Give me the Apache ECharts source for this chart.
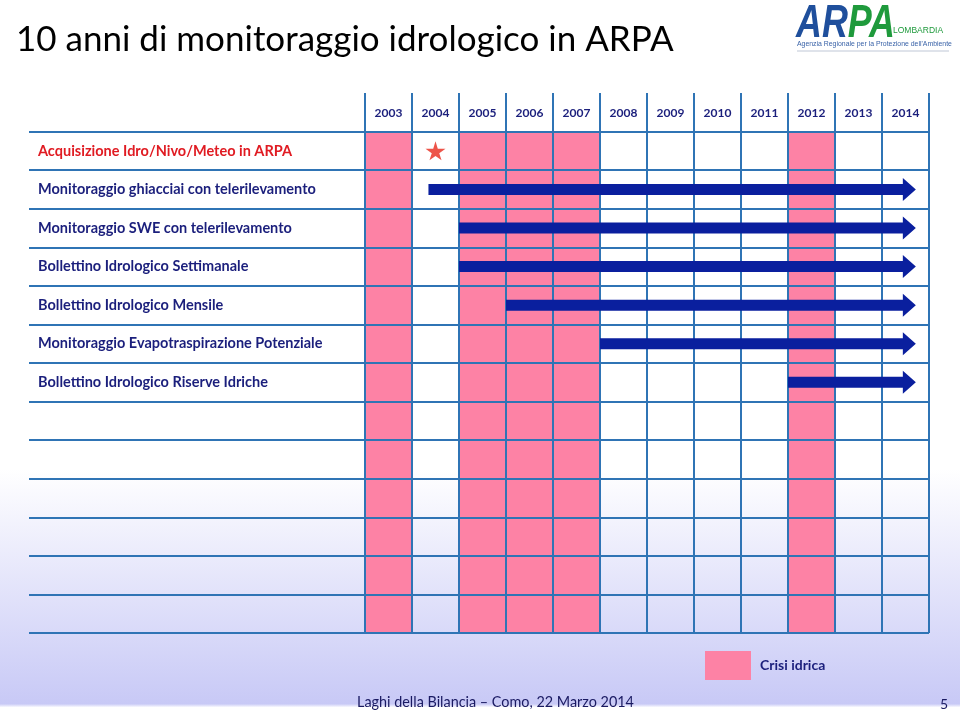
<!DOCTYPE html>
<html><head><meta charset="utf-8">
<script src="https://cdn.jsdelivr.net/npm/echarts@6/dist/echarts.min.js"></script>
<style>html,body{margin:0;padding:0;background:#fff}#c{width:960px;height:711px}</style>
</head><body><div id="c"></div>
<script>
// ---- data ----
const years = ['2003','2004','2005','2006','2007','2008','2009','2010','2011','2012','2013','2014'];
const activities = [
  'Acquisizione Idro/Nivo/Meteo in ARPA',
  'Monitoraggio ghiacciai con telerilevamento',
  'Monitoraggio SWE con telerilevamento',
  'Bolle\u0074\u0074ino Idrologico Se\u0074\u0074imanale',
  'Bolle\u0074\u0074ino Idrologico Mensile',
  'Monitoraggio Evapotraspirazione Potenziale',
  'Bolle\u0074\u0074ino Idrologico Riserve Idriche'
];
const emptyRowCount = 6;
const crisisYears = [2003, 2005, 2006, 2007, 2012];
const starActivity = 'Acquisizione Idro/Nivo/Meteo in ARPA';
const starYear = 2004;
const arrowActivities = [
  'Monitoraggio ghiacciai con telerilevamento',
  'Monitoraggio SWE con telerilevamento',
  'Bolle\u0074\u0074ino Idrologico Se\u0074\u0074imanale',
  'Bolle\u0074\u0074ino Idrologico Mensile',
  'Monitoraggio Evapotraspirazione Potenziale',
  'Bolle\u0074\u0074ino Idrologico Riserve Idriche'
];
const arrowStart = [2004.35, 2005, 2005, 2006, 2008, 2012];
const arrowEnd   = [2014.72, 2014.72, 2014.72, 2014.72, 2014.72, 2014.72];
const legendLabel = 'Crisi idrica';
const titleText = '10 anni di monitoraggio idrologico in ARPA';
const footerText = 'Laghi della Bilancia \u2013 Como, 22 Marzo 2014';
const pageNumber = '5';

// ---- derived ----
const rowLabels = [''].concat(activities, new Array(emptyRowCount).fill(''));
const totalRows = rowLabels.length; // header + rows
const firstYear = +years[0];
const lastYear = +years[years.length - 1] + 1;
const rowCenter = name => rowLabels.indexOf(name) + 0.5;

const NAVY = '#1b1f7c';
const GRID = '#2f74b5';
const PINK = '#fd82a5';
const FONT = 'Lato, "Open Sans", sans-serif';

const chart = echarts.init(document.getElementById('c'));
chart.setOption({
  backgroundColor: {
    type: 'linear', x: 0, y: 0, x2: 0, y2: 1,
    colorStops: [
      {offset: 0, color: '#ffffff'},
      {offset: 0.66, color: '#ffffff'},
      {offset: 0.99, color: '#c8c9f6'},
      {offset: 0.995, color: '#ffffff'},
      {offset: 1, color: '#ffffff'}
    ]
  },
  animation: false,
  textStyle: {fontFamily: FONT},
  title: [
    {text: titleText, left: 16, top: 22, padding: 0,
     textStyle: {fontSize: 35, fontWeight: 'normal', color: '#000', fontFamily: FONT}},
    {text: footerText, left: 357, top: 695, padding: 0,
     textStyle: {fontSize: 14.4, fontWeight: 'normal', color: '#1a1a62', fontFamily: FONT}},
    {text: pageNumber, left: 940, top: 697, padding: 0,
     textStyle: {fontSize: 14, fontWeight: 'normal', color: '#1a1a62', fontFamily: FONT}}
  ],
  legend: {
    data: [legendLabel], left: 705, top: 651, padding: 0,
    icon: 'rect', itemWidth: 46, itemHeight: 29,
    textStyle: {fontSize: 14, fontWeight: 'bold', color: NAVY, fontFamily: FONT, padding: [0, 0, 0, 4]}
  },
  grid: [
    {left: 29, right: 31, top: 93, bottom: 78, containLabel: false},
    {left: 365, right: 31, top: 93, bottom: 78, containLabel: false}
  ],
  xAxis: [
    {gridIndex: 0, type: 'value', show: false, min: 0, max: 1},
    {gridIndex: 1, type: 'category', data: years, position: 'top', boundaryGap: true,
     axisLine: {show: false}, axisTick: {show: false},
     axisLabel: {inside: true, margin: 14, fontSize: 12, fontWeight: 'bold', color: NAVY, fontFamily: FONT},
     splitLine: {show: true, showMinLine: true, showMaxLine: true, lineStyle: {color: GRID, width: 2}}},
    {gridIndex: 1, type: 'value', show: false, min: firstYear, max: lastYear}
  ],
  yAxis: [
    {gridIndex: 0, type: 'category', data: rowLabels, inverse: true, boundaryGap: true,
     axisLine: {show: false}, axisTick: {show: false},
     axisLabel: {inside: true, margin: 9, fontSize: 14.5, fontWeight: 'bold', fontFamily: FONT,
       color: (v, i) => (v === activities[0] ? '#e01b22' : NAVY)},
     splitLine: {show: true, showMinLine: false, showMaxLine: true, lineStyle: {color: GRID, width: 2}}},
    {gridIndex: 1, type: 'value', show: false, min: 0, max: totalRows, inverse: true}
  ],
  series: [
    {
      name: legendLabel, type: 'custom', xAxisIndex: 2, yAxisIndex: 1, z: -1,
      itemStyle: {color: PINK},
      data: crisisYears.map(y => [y]),
      renderItem: (params, api) => {
        const y = api.value(0);
        const p0 = api.coord([y, 1]);
        const p1 = api.coord([y + 1, totalRows]);
        return {type: 'rect', shape: {x: p0[0], y: p0[1], width: p1[0] - p0[0], height: p1[1] - p0[1]},
                style: {fill: PINK}};
      }
    },
    {
      name: 'arrows', type: 'custom', xAxisIndex: 2, yAxisIndex: 1, z: 5,
      data: arrowActivities.map((a, i) => [arrowStart[i], arrowEnd[i], rowCenter(a)]),
      renderItem: (params, api) => {
        const s = api.coord([api.value(0), api.value(2)]);
        const e = api.coord([api.value(1), api.value(2)]);
        const yc = s[1], xs = s[0], xe = e[0];
        const h = 5.5, H = 11.5, L = 13;
        return {type: 'polygon', shape: {points: [
          [xs, yc - h], [xe - L, yc - h], [xe - L, yc - H], [xe, yc],
          [xe - L, yc + H], [xe - L, yc + h], [xs, yc + h]]},
          style: {fill: '#0a1f9e'}};
      }
    },
    {
      name: 'star', type: 'scatter', xAxisIndex: 2, yAxisIndex: 1, z: 5,
      symbol: 'path://M50,0 L61,35 L98,35 L68,57 L79,91 L50,70 L21,91 L32,57 L2,35 L39,35 Z',
      symbolSize: [20, 19], itemStyle: {color: '#e8291c'},
      data: [[starYear + 0.5, rowCenter(starActivity)]]
    }
  ],
  graphic: [
    {type: 'text', x: 796, y: 1, scaleX: 0.78, style: {
      text: '{a|AR}{b|PA}', rich: {
        a: {fontSize: 46, fontWeight: 'bold', fontStyle: 'italic', fill: '#1f4f9c', fontFamily: 'Liberation Sans'},
        b: {fontSize: 46, fontWeight: 'bold', fontStyle: 'italic', fill: '#1f9a3c', fontFamily: 'Liberation Sans'}
      }}},
    {type: 'text', x: 893, y: 26, style: {text: 'LOMBARDIA', fontSize: 8.5, fill: '#1f9a3c', fontFamily: 'Liberation Sans'}},
    {type: 'text', x: 797, y: 41, style: {text: "Agenzia Regionale per la Protezione dell'Ambiente", fontSize: 6.9, fill: '#3a63a8', fontFamily: 'Liberation Sans'}},
    {type: 'line', shape: {x1: 797, y1: 51, x2: 949, y2: 51}, style: {stroke: '#bfc7d6', lineWidth: 1}}
  ]
});
</script></body></html>
